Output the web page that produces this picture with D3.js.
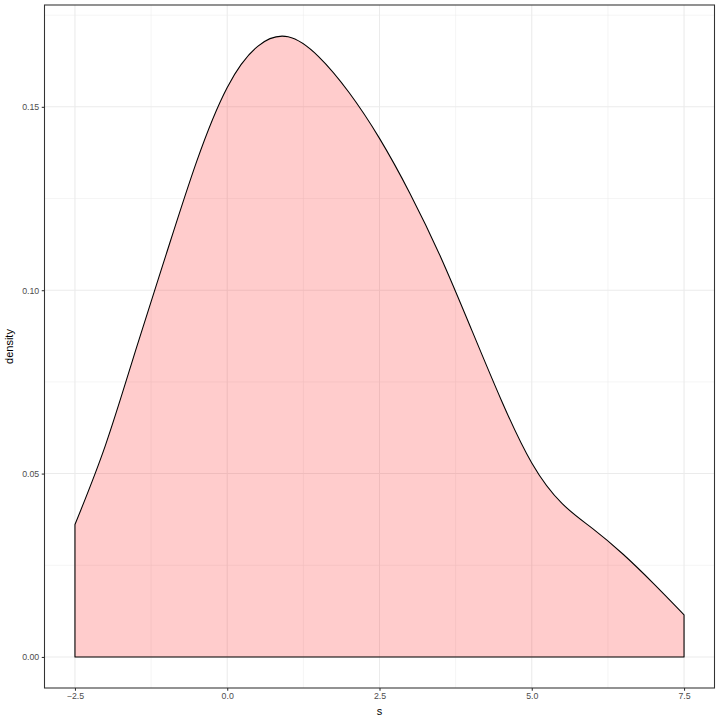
<!DOCTYPE html>
<html>
<head>
<meta charset="utf-8">
<script src="https://cdn.jsdelivr.net/npm/d3@7"></script>
<style>
  html, body { margin: 0; padding: 0; background: #fff; }
  svg { display: block; }
  text { font-family: "Liberation Sans", Arial, sans-serif; }
</style>
</head>
<body>
<svg id="chart" width="720" height="720"></svg>
<script>
// Data (density estimate of s)
const sValues = [-2.5, -2.0, -1.5, -1.0, -0.5, 0.0, 0.5, 1.0, 1.5, 2.0, 2.5, 3.0, 3.5, 4.0, 4.5, 5.0, 5.5, 6.0, 6.5, 7.0, 7.5];
const densityValues = [0.0361, 0.0577, 0.0838, 0.1099, 0.1352, 0.1553, 0.1665, 0.1691, 0.1637, 0.1539, 0.1414, 0.1264, 0.1092, 0.0897, 0.0700, 0.0529, 0.0418, 0.0350, 0.0280, 0.0200, 0.0115];
const xTicks = [-2.5, 0.0, 2.5, 5.0, 7.5];
const xMinor = [-1.25, 1.25, 3.75, 6.25];
const yTicks = [0.00, 0.05, 0.10, 0.15];
const yMinor = [0.025, 0.075, 0.125, 0.175];
const xLabel = "s";
const yLabel = "density";

const data = sValues.map((s, i) => ({ s, d: densityValues[i] }));

const svg = d3.select("#chart");
const panel = { left: 44.5, right: 714.5, top: 5, bottom: 688 };

const xMin = d3.min(sValues), xMax = d3.max(sValues);
const xPad = (xMax - xMin) * 0.05;
const yMax = 0.1693; // peak of the smooth curve
const yPad = yMax * 0.05;

const x = d3.scaleLinear().domain([xMin - xPad, xMax + xPad]).range([panel.left, panel.right]);
const y = d3.scaleLinear().domain([-yPad, yMax + yPad]).range([panel.bottom, panel.top]);

svg.append("rect").attr("x", panel.left).attr("y", panel.top)
  .attr("width", panel.right - panel.left).attr("height", panel.bottom - panel.top)
  .attr("fill", "#fff");

const grid = svg.append("g");
grid.selectAll(".ymin").data(yMinor).join("line")
  .attr("x1", panel.left).attr("x2", panel.right)
  .attr("y1", d => y(d)).attr("y2", d => y(d))
  .attr("stroke", "#ebebeb").attr("stroke-width", 0.55);
grid.selectAll(".xmin").data(xMinor).join("line")
  .attr("y1", panel.top).attr("y2", panel.bottom)
  .attr("x1", d => x(d)).attr("x2", d => x(d))
  .attr("stroke", "#ebebeb").attr("stroke-width", 0.55);
grid.selectAll(".ymaj").data(yTicks).join("line")
  .attr("x1", panel.left).attr("x2", panel.right)
  .attr("y1", d => y(d)).attr("y2", d => y(d))
  .attr("stroke", "#ebebeb").attr("stroke-width", 1.07);
grid.selectAll(".xmaj").data(xTicks).join("line")
  .attr("y1", panel.top).attr("y2", panel.bottom)
  .attr("x1", d => x(d)).attr("x2", d => x(d))
  .attr("stroke", "#ebebeb").attr("stroke-width", 1.07);

const curve = d3.curveNatural;
const area = d3.area().x(d => x(d.s)).y0(y(0)).y1(d => y(d.d)).curve(curve);
svg.append("path").datum(data).attr("d", area)
  .attr("fill", "rgba(255,0,0,0.2)").attr("stroke", "none");

const line = d3.line().x(d => x(d.s)).y(d => y(d.d)).curve(curve);
const first = data[0], last = data[data.length - 1];
const outline = "M" + x(first.s) + "," + y(0) + "L" + line(data).slice(1) +
  "L" + x(last.s) + "," + y(0) + "Z";
svg.append("path").attr("d", outline)
  .attr("fill", "none").attr("stroke", "#000").attr("stroke-width", 1.07)
  .attr("stroke-linejoin", "round");

svg.append("rect").attr("x", panel.left).attr("y", panel.top)
  .attr("width", panel.right - panel.left).attr("height", panel.bottom - panel.top)
  .attr("fill", "none").attr("stroke", "#333333").attr("stroke-width", 1.07);

const xAxis = d3.axisBottom(x).tickValues(xTicks).tickFormat(d3.format(".1f")).tickSize(2.75).tickPadding(2.5);
const gx = svg.append("g").attr("transform", `translate(0,${panel.bottom})`).call(xAxis);
const yAxis = d3.axisLeft(y).tickValues(yTicks).tickFormat(d3.format(".2f")).tickSize(2.75).tickPadding(2.5);
const gy = svg.append("g").attr("transform", `translate(${panel.left},0)`).call(yAxis);
[gx, gy].forEach(g => {
  g.select(".domain").remove();
  g.selectAll(".tick line").attr("stroke", "#333333").attr("stroke-width", 1.07);
  g.selectAll(".tick text").attr("fill", "#4d4d4d").attr("font-size", "8.8px")
    .attr("font-family", "'Liberation Sans', Arial, sans-serif");
});

svg.append("text").attr("x", (panel.left + panel.right) / 2).attr("y", 715)
  .attr("text-anchor", "middle").attr("font-size", "11px").attr("fill", "#000").text(xLabel);
svg.append("text").attr("transform", `translate(13,${(panel.top + panel.bottom) / 2}) rotate(-90)`)
  .attr("text-anchor", "middle").attr("font-size", "11px").attr("fill", "#000").text(yLabel);
</script>
</body>
</html>
